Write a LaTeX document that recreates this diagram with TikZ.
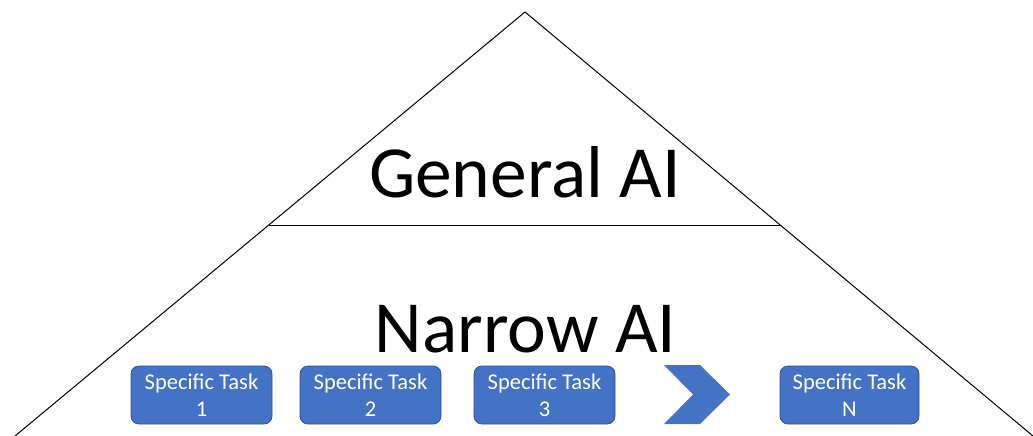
\documentclass[tikz,border=0pt]{standalone}
\usepackage{fontspec}
\setmainfont{Carlito}
\usetikzlibrary{calc}
\definecolor{taskfill}{HTML}{4472C4}
\definecolor{taskedge}{HTML}{2F528F}
\tikzset{
  edge/.style={draw=black, line width=1pt},
  task/.style={draw=taskedge, line width=0.8pt, fill=taskfill, rounded corners=8pt,
    minimum width=141pt, minimum height=58pt, inner sep=0pt, align=center,
    text=white, font=\fontsize{22.5pt}{27pt}\selectfont},
  level/.style={anchor=base, inner sep=0pt, text=black},
}
\begin{document}
\begin{tikzpicture}[x=1pt, y=-1pt]
  \useasboundingbox (0,0) rectangle (1033,436);
  % pyramid outline, open at the bottom
  \coordinate (apex) at (525,12);
  \coordinate (bl) at (15,436);
  \coordinate (br) at (1033,436);
  \draw[edge] (bl) -- (apex) -- (br);
  % divider between the two levels
  \coordinate (dl) at ($(apex)!0.5024!(bl)$);
  \coordinate (dr) at ($(apex)!0.5024!(br)$);
  \draw[edge] (dl) -- (dr);
  % level titles
  \node[level, font=\fontsize{73.5pt}{86pt}\selectfont] (gen) at (525,197) {General AI};
  \node[level, font=\fontsize{73.5pt}{86pt}\selectfont] (nar) at (525.5,352) {Narrow AI};
  % task boxes
  \node[task] (t1) at (201.5,395) {Specific Task\\1};
  \node[task] (t2) at (370.5,395) {Specific Task\\2};
  \node[task] (t3) at (544.5,395) {Specific Task\\3};
  \node[task, minimum width=139pt] (tn) at (849.5,395) {Specific Task\\N};
  % chevron standing for the tasks in between
  \fill[taskfill] (664,365) -- (700,365) -- (730,394.5) -- (700,424) -- (664,424) -- (693,394.5) -- cycle;
\end{tikzpicture}
\end{document}
